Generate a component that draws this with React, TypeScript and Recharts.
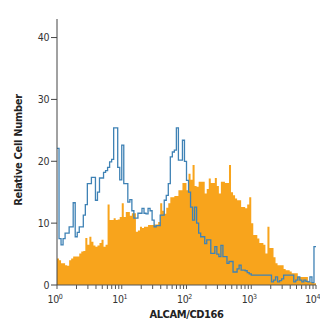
import React from 'react';
import { ComposedChart, Area, Line, XAxis, YAxis } from 'recharts';

// histogram channels: 128 bins over 4 log decades (32 bins per decade)
const isotype: number[] = [
  22.1, 7.5, 6.5, 7.5, 8.4, 8.4, 9.4, 9.4, 13.3, 7.8,
  8.5, 9.4, 9.4, 11.3, 13, 16.4, 16.4, 17.4, 17.4, 13.7,
  15, 17.3, 17.3, 18.2, 18.5, 19, 19.9, 20.3, 25.4, 25.4,
  19, 17, 22.6, 16.4, 16.4, 13.4, 13.8, 12, 10.8, 10.8,
  11.6, 11.6, 12.4, 11.6, 11.5, 12.4, 12, 10.5, 9.4, 9.6,
  9.6, 11.3, 11.3, 13.7, 14.5, 16.4, 20.7, 21.5, 21.8, 25.4,
  20.2, 20.2, 23.4, 20, 16.9, 15, 12.6, 10.5, 12.6, 10,
  8.4, 7.8, 7.8, 6.7, 7.3, 7.3, 5.1, 5.1, 6.2, 5,
  4.6, 6.4, 4.6, 4.6, 3.5, 3.8, 3.8, 2.1, 2.1, 2.6,
  3.2, 2.4, 2.4, 2.3, 2, 1.8, 1.6, 1.6, 1.6, 1.6,
  1.6, 1.6, 1.6, 1.6, 1.6, 1.6, 0.5, 0.8, 1.3, 0.5,
  0.7, 1, 1.6, 1.6, 1.6, 1.6, 1.6, 0.5, 0.8, 1.3,
  0.8, 0.5, 0.8, 0.6, 0.5, 1.3, 0.4, 6.2,
];

const stained: number[] = [
  4.3, 4, 3.5, 3.5, 3.2, 3.1, 4, 4.3, 4.6, 4.6,
  4.6, 5.1, 5.4, 5.5, 7.6, 6.5, 7.8, 7, 6.4, 6.2,
  6.4, 6.8, 7.3, 6.2, 6.5, 13, 10.5, 10.5, 10.8, 10.5,
  10.6, 11, 13.2, 11, 11.8, 11.8, 11.2, 11.6, 11.6, 8.6,
  8.8, 9.4, 9.2, 9.4, 9.4, 9.7, 9.7, 9.7, 9.8, 9.8,
  10.2, 13.2, 12, 11.5, 12.5, 13.2, 14.2, 14.2, 14.4, 14.4,
  15.3, 15.3, 16.5, 16.5, 15.3, 18, 17, 19.4, 16, 15.9,
  16.7, 16.7, 16.7, 14.8, 15.5, 17.2, 16.5, 16.5, 17.3, 16,
  14.8, 16.7, 16.7, 16.5, 16.5, 19.4, 15, 14.5, 14, 13.7,
  13.7, 12.6, 12.6, 12.4, 13, 14.2, 10, 8.1, 8.1, 7.5,
  6.8, 6.8, 6.5, 5.1, 9.4, 6, 6, 4.5, 3.5, 3.2,
  3.2, 3.2, 2.6, 2.4, 2.4, 2.2, 1.9, 1.9, 1.9, 1.3,
  1.3, 1.3, 1.3, 1.3, 0.5, 0.5, 0.5, 0.3,
];

const decadeExponents = ['0', '1', '2', '3', '4'];
const yTicks = [0, 10, 20, 30, 40];

const BINS_PER_DECADE = 32;
const channelCount = isotype.length;

// last point repeats the final bin so the step closes at the right edge
const rows = Array.from({ length: channelCount + 1 }, (_, i) => ({
  ch: i,
  isotype: isotype[Math.min(i, channelCount - 1)],
  stained: stained[Math.min(i, channelCount - 1)],
}));

const majorTicks = decadeExponents.map((_, d) => d * BINS_PER_DECADE);
const xTicks: number[] = [];
decadeExponents.slice(0, -1).forEach((_, d) => {
  for (let k = 1; k < 10; k++) xTicks.push(BINS_PER_DECADE * (d + Math.log10(k)));
});
xTicks.push(majorTicks[majorTicks.length - 1]);

const font = '"DejaVu Sans Condensed", "Liberation Sans Narrow", sans-serif';

const LogTick = (props: any) => {
  const { x, y, payload } = props;
  const idx = majorTicks.findIndex((t) => Math.abs(t - payload.value) < 1e-6);
  if (idx < 0) return null;
  const last = idx === majorTicks.length - 1;
  return (
    <text
      x={last ? x + 4 : x - 2}
      y={y + 12}
      textAnchor={last ? 'end' : 'middle'}
      fontFamily={font}
      fontSize={10.5}
      fill="#333"
      letterSpacing={-0.4}
    >
      <tspan>10</tspan>
      <tspan dy={-4} fontSize={7}>{decadeExponents[idx]}</tspan>
    </text>
  );
};

const YLabel = (props: any) => {
  const { viewBox } = props;
  const cy = viewBox.y + viewBox.height / 2 - 2;
  return (
    <text
      x={18}
      y={cy}
      transform={`rotate(-90, 18, ${cy})`}
      textAnchor="middle"
      dominantBaseline="central"
      fontFamily={font}
      fontWeight="bold"
      fontSize={11}
      letterSpacing={-0.3}
      fill="#222"
    >
      Relative Cell Number
    </text>
  );
};

export default function App() {
  return (
    <div style={{ position: 'absolute', left: 0, top: 0, background: '#fff' }}>
      <ComposedChart
        width={320}
        height={322}
        data={rows}
        margin={{ top: 19, right: 4, bottom: 4, left: 0 }}
      >
        <XAxis
          dataKey="ch"
          type="number"
          domain={[0, channelCount]}
          allowDataOverflow
          ticks={xTicks}
          interval={0}
          tick={<LogTick />}
          tickSize={4}
          height={33}
          stroke="#555"
          label={{
            value: 'ALCAM/CD166',
            position: 'insideBottom',
            offset: 0,
            style: {
              fontFamily: font,
              fontWeight: 'bold',
              fontSize: 11,
              letterSpacing: -0.4,
              fill: '#222',
            },
          }}
        />
        <YAxis
          type="number"
          domain={[0, 43]}
          allowDataOverflow
          ticks={yTicks}
          interval={0}
          width={57}
          tickSize={6}
          tickMargin={2}
          stroke="#444"
          tick={{ fontFamily: font, fontSize: 10.5, fill: '#333', letterSpacing: -0.4 }}
          label={<YLabel />}
        />
        <Area
          type="stepAfter"
          dataKey="stained"
          stroke="none"
          fill="#F8A41C"
          fillOpacity={1}
          isAnimationActive={false}
        />
        <Line
          type="stepAfter"
          dataKey="isotype"
          stroke="#3f82b5"
          strokeWidth={1.3}
          dot={false}
          activeDot={false}
          isAnimationActive={false}
        />
      </ComposedChart>
    </div>
  );
}
